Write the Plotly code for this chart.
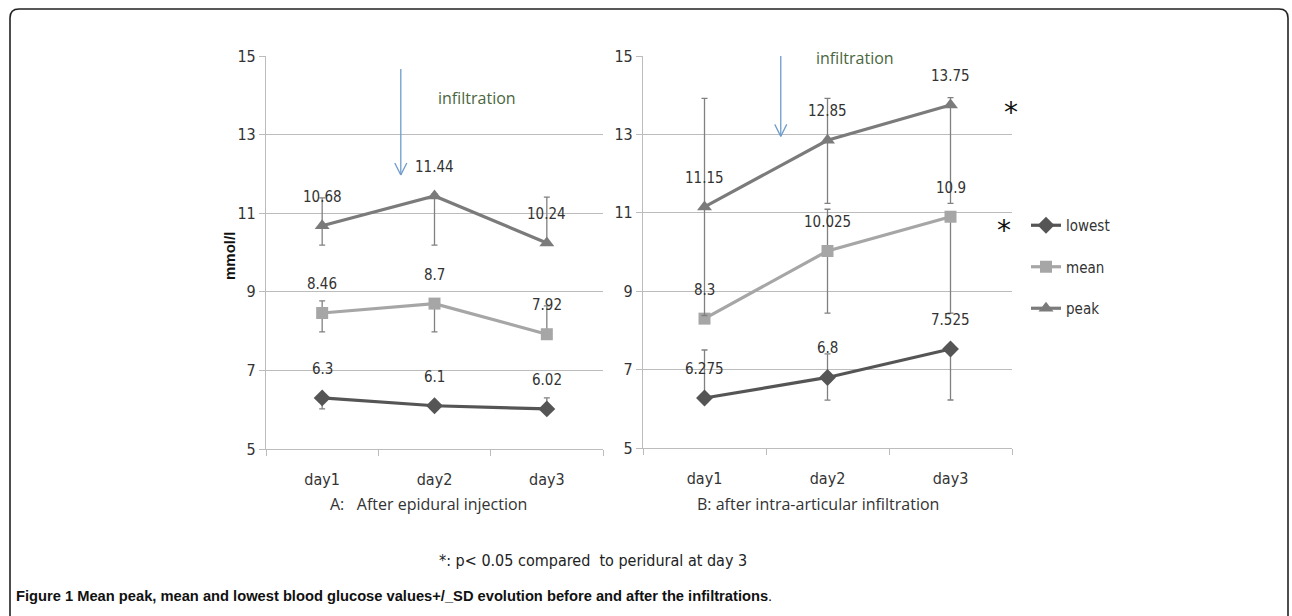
import plotly.graph_objects as go

# ---------------- data ----------------
days = ["day1", "day2", "day3"]
series = ["lowest", "mean", "peak"]

# Panel A: after epidural injection
A_lowest = [6.3, 6.1, 6.02]
A_mean = [8.46, 8.7, 7.92]
A_peak = [10.68, 11.44, 10.24]
A_lowest_plus = [0.05, 0.05, 0.28]
A_lowest_minus = [0.28, 0.05, 0.0]
A_mean_plus = [0.31, 0.05, 0.72]
A_mean_minus = [0.48, 0.72, 0.0]
A_peak_plus = [0.71, 0.05, 1.17]
A_peak_minus = [0.49, 1.25, 0.0]

# Panel B: after intra-articular infiltration
B_lowest = [6.275, 6.8, 7.525]
B_mean = [8.3, 10.025, 10.9]
B_peak = [11.15, 12.85, 13.75]
B_lowest_plus = [1.225, 0.6, 0.05]
B_lowest_minus = [0.05, 0.58, 1.3]
B_mean_plus = [0.05, 1.065, 0.05]
B_mean_minus = [0.05, 1.585, 2.46]
B_peak_plus = [2.77, 1.07, 0.19]
B_peak_minus = [2.77, 1.61, 2.51]

y_ticks = [5, 7, 9, 11, 13, 15]
panel_titles = ["A:&nbsp;&nbsp; After epidural injection", "B: after intra-articular infiltration"]
arrow_label = "infiltration"
y_title = "mmol/l"
footnote = "*: p< 0.05 compared&nbsp; to peridural at day 3"
caption = "<b>Figure 1 Mean peak, mean and lowest blood glucose values+/_SD evolution before and after the infiltrations</b>."

# ---------------- styles ----------------
W, H = 1292, 616
NARROW = "Liberation Sans Narrow, DejaVu Sans Condensed, Arial Narrow, sans-serif"
REG = "Open Sans, Liberation Sans, Arial, sans-serif"
colors = {"lowest": "#555555", "mean": "#a6a6a6", "peak": "#7b7b7b"}
symbols = {"lowest": "diamond", "mean": "square", "peak": "triangle-up"}
msize = {"lowest": 13, "mean": 12, "peak": 13}
grid = "#bcbcbc"


def px(x):
    return x / W


def py(y):
    return 1 - y / H


fig = go.Figure()

panels = [
    ("x", "y", {"lowest": (A_lowest, A_lowest_plus, A_lowest_minus),
                "mean": (A_mean, A_mean_plus, A_mean_minus),
                "peak": (A_peak, A_peak_plus, A_peak_minus)}),
    ("x2", "y2", {"lowest": (B_lowest, B_lowest_plus, B_lowest_minus),
                  "mean": (B_mean, B_mean_plus, B_mean_minus),
                  "peak": (B_peak, B_peak_plus, B_peak_minus)}),
]

annotations = []
for pi, (xa, ya, data) in enumerate(panels):
    for name in series:
        vals, plus, minus = data[name]
        fig.add_trace(go.Scatter(
            x=days, y=vals, xaxis=xa, yaxis=ya, name=name,
            mode="lines+markers",
            line=dict(color=colors[name], width=3.2),
            marker=dict(symbol=symbols[name], size=msize[name], color=colors[name]),
            error_y=dict(type="data", symmetric=False, array=plus, arrayminus=minus,
                         color="#808080", thickness=1.3, width=3),
            showlegend=(pi == 0), legendgroup=name,
            cliponaxis=False,
        ))
        for d, v in zip(days, vals):
            annotations.append(dict(
                x=d, y=v, xref=xa, yref=ya, text=f"{v:g}", showarrow=False,
                yshift=29, xanchor="center", yanchor="middle",
                font=dict(family=NARROW, size=15, color="#333333"),
            ))

axis_common = dict(showline=True, linecolor=grid, linewidth=1.2, mirror=False)
tick_font = dict(family=NARROW, size=16, color="#333")
fig.update_layout(
    autosize=True, margin=dict(l=0, r=0, t=0, b=0, autoexpand=False),
    paper_bgcolor="white", plot_bgcolor="white",
    xaxis=dict(domain=[px(266), px(603)], anchor="y", type="category",
               range=[-0.5, 2.5], tickson="boundaries", ticks="outside",
               ticklen=6, tickcolor=grid, showgrid=False, ticklabelstandoff=16,
               tickfont=tick_font, **axis_common),
    xaxis2=dict(domain=[px(643), px(1012)], anchor="y2", type="category",
                range=[-0.5, 2.5], tickson="boundaries", ticks="outside",
                ticklen=6, tickcolor=grid, showgrid=False, ticklabelstandoff=16,
                tickfont=tick_font, **axis_common),
    yaxis=dict(domain=[py(449), py(56)], anchor="x", range=[5, 15],
               tickvals=y_ticks, ticks="outside", ticklen=6, tickcolor=grid,
               showgrid=True, gridcolor=grid, gridwidth=1.2, zeroline=False,
               tickfont=tick_font, **axis_common),
    yaxis2=dict(domain=[py(448), py(56)], anchor="x2", range=[5, 15],
                tickvals=y_ticks, ticks="outside", ticklen=6, tickcolor=grid,
                showgrid=True, gridcolor=grid, gridwidth=1.2, zeroline=False,
                tickfont=tick_font, **axis_common),
    legend=dict(x=px(1026), y=py(209), xanchor="left", yanchor="top",
                font=dict(family=NARROW, size=15, color="#333"),
                tracegroupgap=19, itemwidth=30, bgcolor="rgba(0,0,0,0)"),
)


def note(x, y, text, font, **kw):
    d = dict(x=px(x), y=py(y), xref="paper", yref="paper", text=text, showarrow=False,
             xanchor="center", yanchor="middle", font=font)
    d.update(kw)
    annotations.append(d)


# panel titles
note(428, 504, panel_titles[0], dict(family=REG, size=16, color="#333"))
note(818, 504, panel_titles[1], dict(family=REG, size=16, color="#333"))
# y title
note(229, 256, f"<b>{y_title}</b>", dict(family="Liberation Sans, Arial, sans-serif", size=15, color="#111"),
     textangle=-90)
# infiltration labels
note(477, 98, arrow_label, dict(family=REG, size=16, color="#4a6640"))
note(855, 58, arrow_label, dict(family=REG, size=16, color="#4a6640"))
# asterisks
note(1011, 113, "*", dict(family="DejaVu Sans", size=28, color="#111"))
note(1004, 230, "*", dict(family="DejaVu Sans", size=28, color="#111"))
# footnote
note(593, 560, footnote, dict(family=NARROW, size=16, color="#222"))
# caption
note(14, 596, caption, dict(family="Liberation Sans, Arial, sans-serif", size=14.7, color="#111"),
     xanchor="left")

fig.update_layout(annotations=annotations)

# infiltration arrows (stem + open V head)
arrow_col = "#6f9bcc"
shapes = []
for xa, ya, xc, ytop, ytip in [("x", "y", 0.70, 14.67, 11.97), ("x2", "y2", 0.62, 15.62, 12.95)]:
    shapes.append(dict(type="line", xref=xa, yref=ya, x0=xc, x1=xc, y0=ytop, y1=ytip,
                       line=dict(color=arrow_col, width=1.3)))
    for dx in (-6, 6):
        shapes.append(dict(type="line", xref=xa, yref=ya, xsizemode="pixel", ysizemode="pixel",
                           xanchor=xc, yanchor=ytip, x0=dx, x1=0, y0=12, y1=0,
                           line=dict(color=arrow_col, width=1.3)))

# rounded frame
r = 9
x0, y0, x1, y1 = 10, 9, 1288, 640
path = (f"M {px(x0)},{py(y1)} L {px(x0)},{py(y0 + r)} Q {px(x0)},{py(y0)} {px(x0 + r)},{py(y0)} "
        f"L {px(x1 - r)},{py(y0)} Q {px(x1)},{py(y0)} {px(x1)},{py(y0 + r)} L {px(x1)},{py(y1)}")
shapes.append(dict(type="path", xref="paper", yref="paper", path=path,
                   line=dict(color="#222", width=1.6)))
fig.update_layout(shapes=shapes)

post = ("document.documentElement.style.height='100%';"
        "document.documentElement.style.overflow='hidden';"
        "document.body.style.height='100%';"
        "document.body.style.margin='0';"
        "document.body.style.overflow='hidden';"
        "var gd=document.getElementById('{plot_id}');"
        "gd.parentNode.style.height='100%';gd.parentNode.style.width='100%';"
        "gd.style.height='100%';gd.style.width='100%';"
        "Plotly.Plots.resize(gd);")
fig.write_html("out.html", config={"displayModeBar": False, "responsive": True},
               default_width="100%", default_height="100%", post_script=post)
